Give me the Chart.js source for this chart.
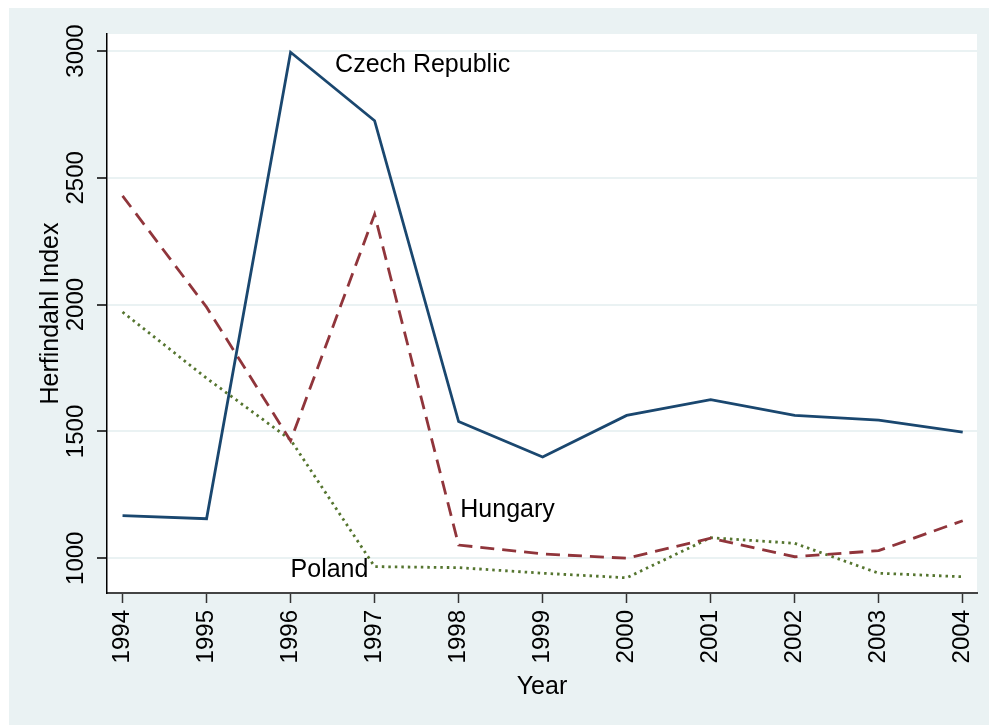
<!DOCTYPE html>
<html>
<head>
<meta charset="utf-8">
<script src="https://cdn.jsdelivr.net/npm/chart.js@4/dist/chart.umd.min.js"></script>
<style>
  html, body { margin: 0; padding: 0; background: #fff; }
  #wrap { width: 989px; height: 725px; }
</style>
</head>
<body>
<div id="wrap"><canvas id="chart"></canvas></div>
<script>
// data
const years = [1994, 1995, 1996, 1997, 1998, 1999, 2000, 2001, 2002, 2003, 2004];
const czech = [1168, 1156, 2995, 2725, 1539, 1399, 1563, 1625, 1563, 1545, 1497];
const hungary = [2429, 1990, 1463, 2356, 1052, 1017, 1000, 1079, 1006, 1030, 1148];
const poland = [1971, 1710, 1467, 967, 963, 941, 923, 1081, 1059, 941, 927];
const yTicks = [1000, 1500, 2000, 2500, 3000];

// series name labels, anchored in data units [text, year, value]
const seriesLabels = [
    ["Czech Republic", 1996.53, 2945],
    ["Hungary", 1998.02, 1191],
    ["Poland", 1996.0, 954]
];

const bg = '#eaf2f3';
const fontFamily = '"Liberation Sans", Arial, sans-serif';

function points(vals) {
    return years.map((y, i) => ({ x: y, y: vals[i] }));
}

// gray frame + white plot region
const backdrop = {
    id: 'backdrop',
    beforeDraw(chart) {
        const { ctx, chartArea: a } = chart;
        ctx.save();
        ctx.fillStyle = bg;
        ctx.fillRect(9, 8, chart.width - 9, chart.height - 8);
        ctx.fillStyle = '#fff';
        ctx.fillRect(a.left, a.top, a.right - a.left, a.bottom - a.top);
        ctx.restore();
    }
};

const nameLabels = {
    id: 'nameLabels',
    afterDatasetsDraw(chart) {
        const { ctx, scales: { x, y } } = chart;
        ctx.save();
        ctx.font = '25px ' + fontFamily;
        ctx.fillStyle = '#000';
        ctx.textAlign = 'left';
        ctx.textBaseline = 'middle';
        seriesLabels.forEach(l => {
            ctx.fillText(l[0], x.getPixelForValue(l[1]), y.getPixelForValue(l[2]));
        });
        ctx.restore();
    }
};

const ctx = document.getElementById('chart');

new Chart(ctx, {
    type: 'line',
    data: {
        datasets: [{
            label: 'Czech Republic',
            data: points(czech),
            borderColor: '#1a476f',
            borderWidth: 2.8
        }, {
            label: 'Hungary',
            data: points(hungary),
            borderColor: '#90353b',
            borderWidth: 2.8,
            borderDash: [14, 8]
        }, {
            label: 'Poland',
            data: points(poland),
            borderColor: '#55752f',
            borderWidth: 2.8,
            borderDash: [2.5, 4]
        }]
    },
    options: {
        responsive: true,
        maintainAspectRatio: false,
        animation: false,
        devicePixelRatio: 1,
        layout: { padding: { left: 0, top: 34, right: 12, bottom: 0 } },
        elements: {
            point: { radius: 0 },
            line: { tension: 0, fill: false, borderCapStyle: 'butt' }
        },
        plugins: {
            legend: { display: false },
            tooltip: { enabled: false }
        },
        scales: {
            x: {
                type: 'linear',
                min: 1993.815,
                max: 2004.17,
                afterBuildTicks: s => { s.ticks = years.map(v => ({ value: v })); },
                afterFit: s => { s.height = 132; s.paddingLeft = 0; s.paddingRight = 0; },
                ticks: {
                    minRotation: 90,
                    maxRotation: 90,
                    padding: 7,
                    color: '#000',
                    font: { family: fontFamily, size: 24 },
                    callback: v => String(v)
                },
                grid: {
                    drawOnChartArea: false,
                    drawTicks: true,
                    tickLength: 10,
                    tickColor: '#333',
                    tickWidth: 1.5
                },
                border: { color: '#444', width: 2 },
                title: {
                    display: true,
                    text: 'Year',
                    color: '#000',
                    font: { family: fontFamily, size: 25 },
                    padding: { top: 0, bottom: 23 }
                }
            },
            y: {
                type: 'linear',
                min: 863,
                max: 3067,
                afterBuildTicks: s => { s.ticks = yTicks.map(v => ({ value: v })); },
                afterFit: s => { s.width = 107; s.paddingTop = 0; s.paddingBottom = 0; },
                ticks: {
                    minRotation: 90,
                    maxRotation: 90,
                    crossAlign: 'center',
                    padding: -5.7,
                    color: '#000',
                    font: { family: fontFamily, size: 24 },
                    callback: v => String(v)
                },
                grid: {
                    color: bg,
                    lineWidth: 2,
                    drawTicks: true,
                    tickLength: 10,
                    tickColor: '#000',
                    tickWidth: 1.5
                },
                border: { color: '#000', width: 1.5 },
                title: {
                    display: true,
                    text: 'Herfindahl Index',
                    color: '#000',
                    font: { family: fontFamily, size: 25 },
                    padding: { top: 36, bottom: 0 }
                }
            }
        }
    },
    plugins: [backdrop, nameLabels]
});
</script>
</body>
</html>
